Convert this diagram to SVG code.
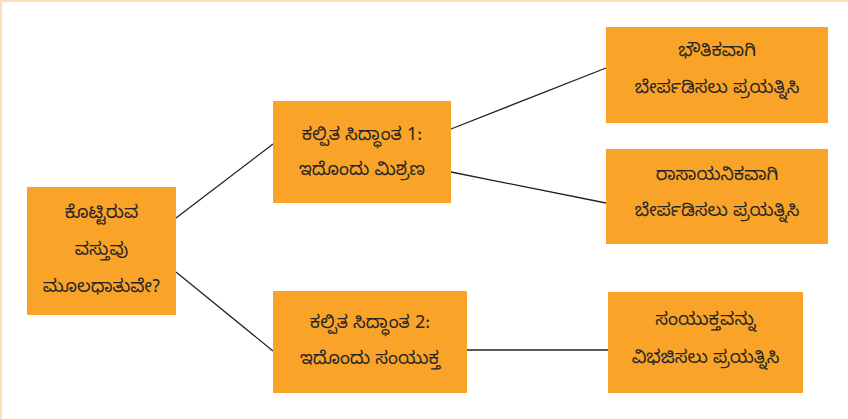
<svg xmlns="http://www.w3.org/2000/svg" width="848" height="419" viewBox="0 0 848 419">
<style>
.box{fill:#F9A328;}
.t{font-family:"Noto Sans Kannada","Noto Sans",sans-serif;font-size:18px;fill:#262626;text-anchor:middle;dominant-baseline:central;}
.c{stroke:#222;stroke-width:1.3;fill:none;}
</style>
<rect width="848" height="419" fill="#fff"/>
<path d="M1,419 V1 H848" fill="none" stroke="#FBDDB8" stroke-width="2"/>
<g id="connectors">
<line class="c" x1="176" y1="218" x2="273" y2="144"/>
<line class="c" x1="176" y1="272" x2="273" y2="351"/>
<line class="c" x1="451" y1="129" x2="606" y2="68"/>
<line class="c" x1="451" y1="172" x2="606" y2="203"/>
<line class="c" x1="467" y1="350" x2="608" y2="350"/>
</g>
<g id="root">
<rect class="box" x="27" y="187" width="149" height="128"/>
<text class="t" x="101.5" y="215">ಕೊಟ್ಟಿರುವ</text>
<text class="t" x="101.5" y="252">ವಸ್ತುವು</text>
<text class="t" x="101.5" y="289">ಮೂಲಧಾತುವೇ?</text>
</g>
<g id="hyp1">
<rect class="box" x="273" y="101" width="178" height="102"/>
<text class="t" x="362" y="137">ಕಲ್ಪಿತ ಸಿದ್ಧಾಂತ 1:</text>
<text class="t" x="362" y="172">ಇದೊಂದು ಮಿಶ್ರಣ</text>
</g>
<g id="hyp2">
<rect class="box" x="273" y="291" width="194" height="102"/>
<text class="t" x="370" y="325">ಕಲ್ಪಿತ ಸಿದ್ಧಾಂತ 2:</text>
<text class="t" x="370" y="361">ಇದೊಂದು ಸಂಯುಕ್ತ</text>
</g>
<g id="phys">
<rect class="box" x="606" y="27" width="222" height="96"/>
<text class="t" x="717" y="53">ಭೌತಿಕವಾಗಿ</text>
<text class="t" x="717" y="90">ಬೇರ್ಪಡಿಸಲು ಪ್ರಯತ್ನಿಸಿ</text>
</g>
<g id="chem">
<rect class="box" x="606" y="149" width="222" height="95"/>
<text class="t" x="717" y="177">ರಾಸಾಯನಿಕವಾಗಿ</text>
<text class="t" x="717" y="213">ಬೇರ್ಪಡಿಸಲು ಪ್ರಯತ್ನಿಸಿ</text>
</g>
<g id="comp">
<rect class="box" x="608" y="292" width="195" height="101"/>
<text class="t" x="705.5" y="322">ಸಂಯುಕ್ತವನ್ನು</text>
<text class="t" x="705.5" y="360">ವಿಭಜಿಸಲು ಪ್ರಯತ್ನಿಸಿ</text>
</g>
</svg>
